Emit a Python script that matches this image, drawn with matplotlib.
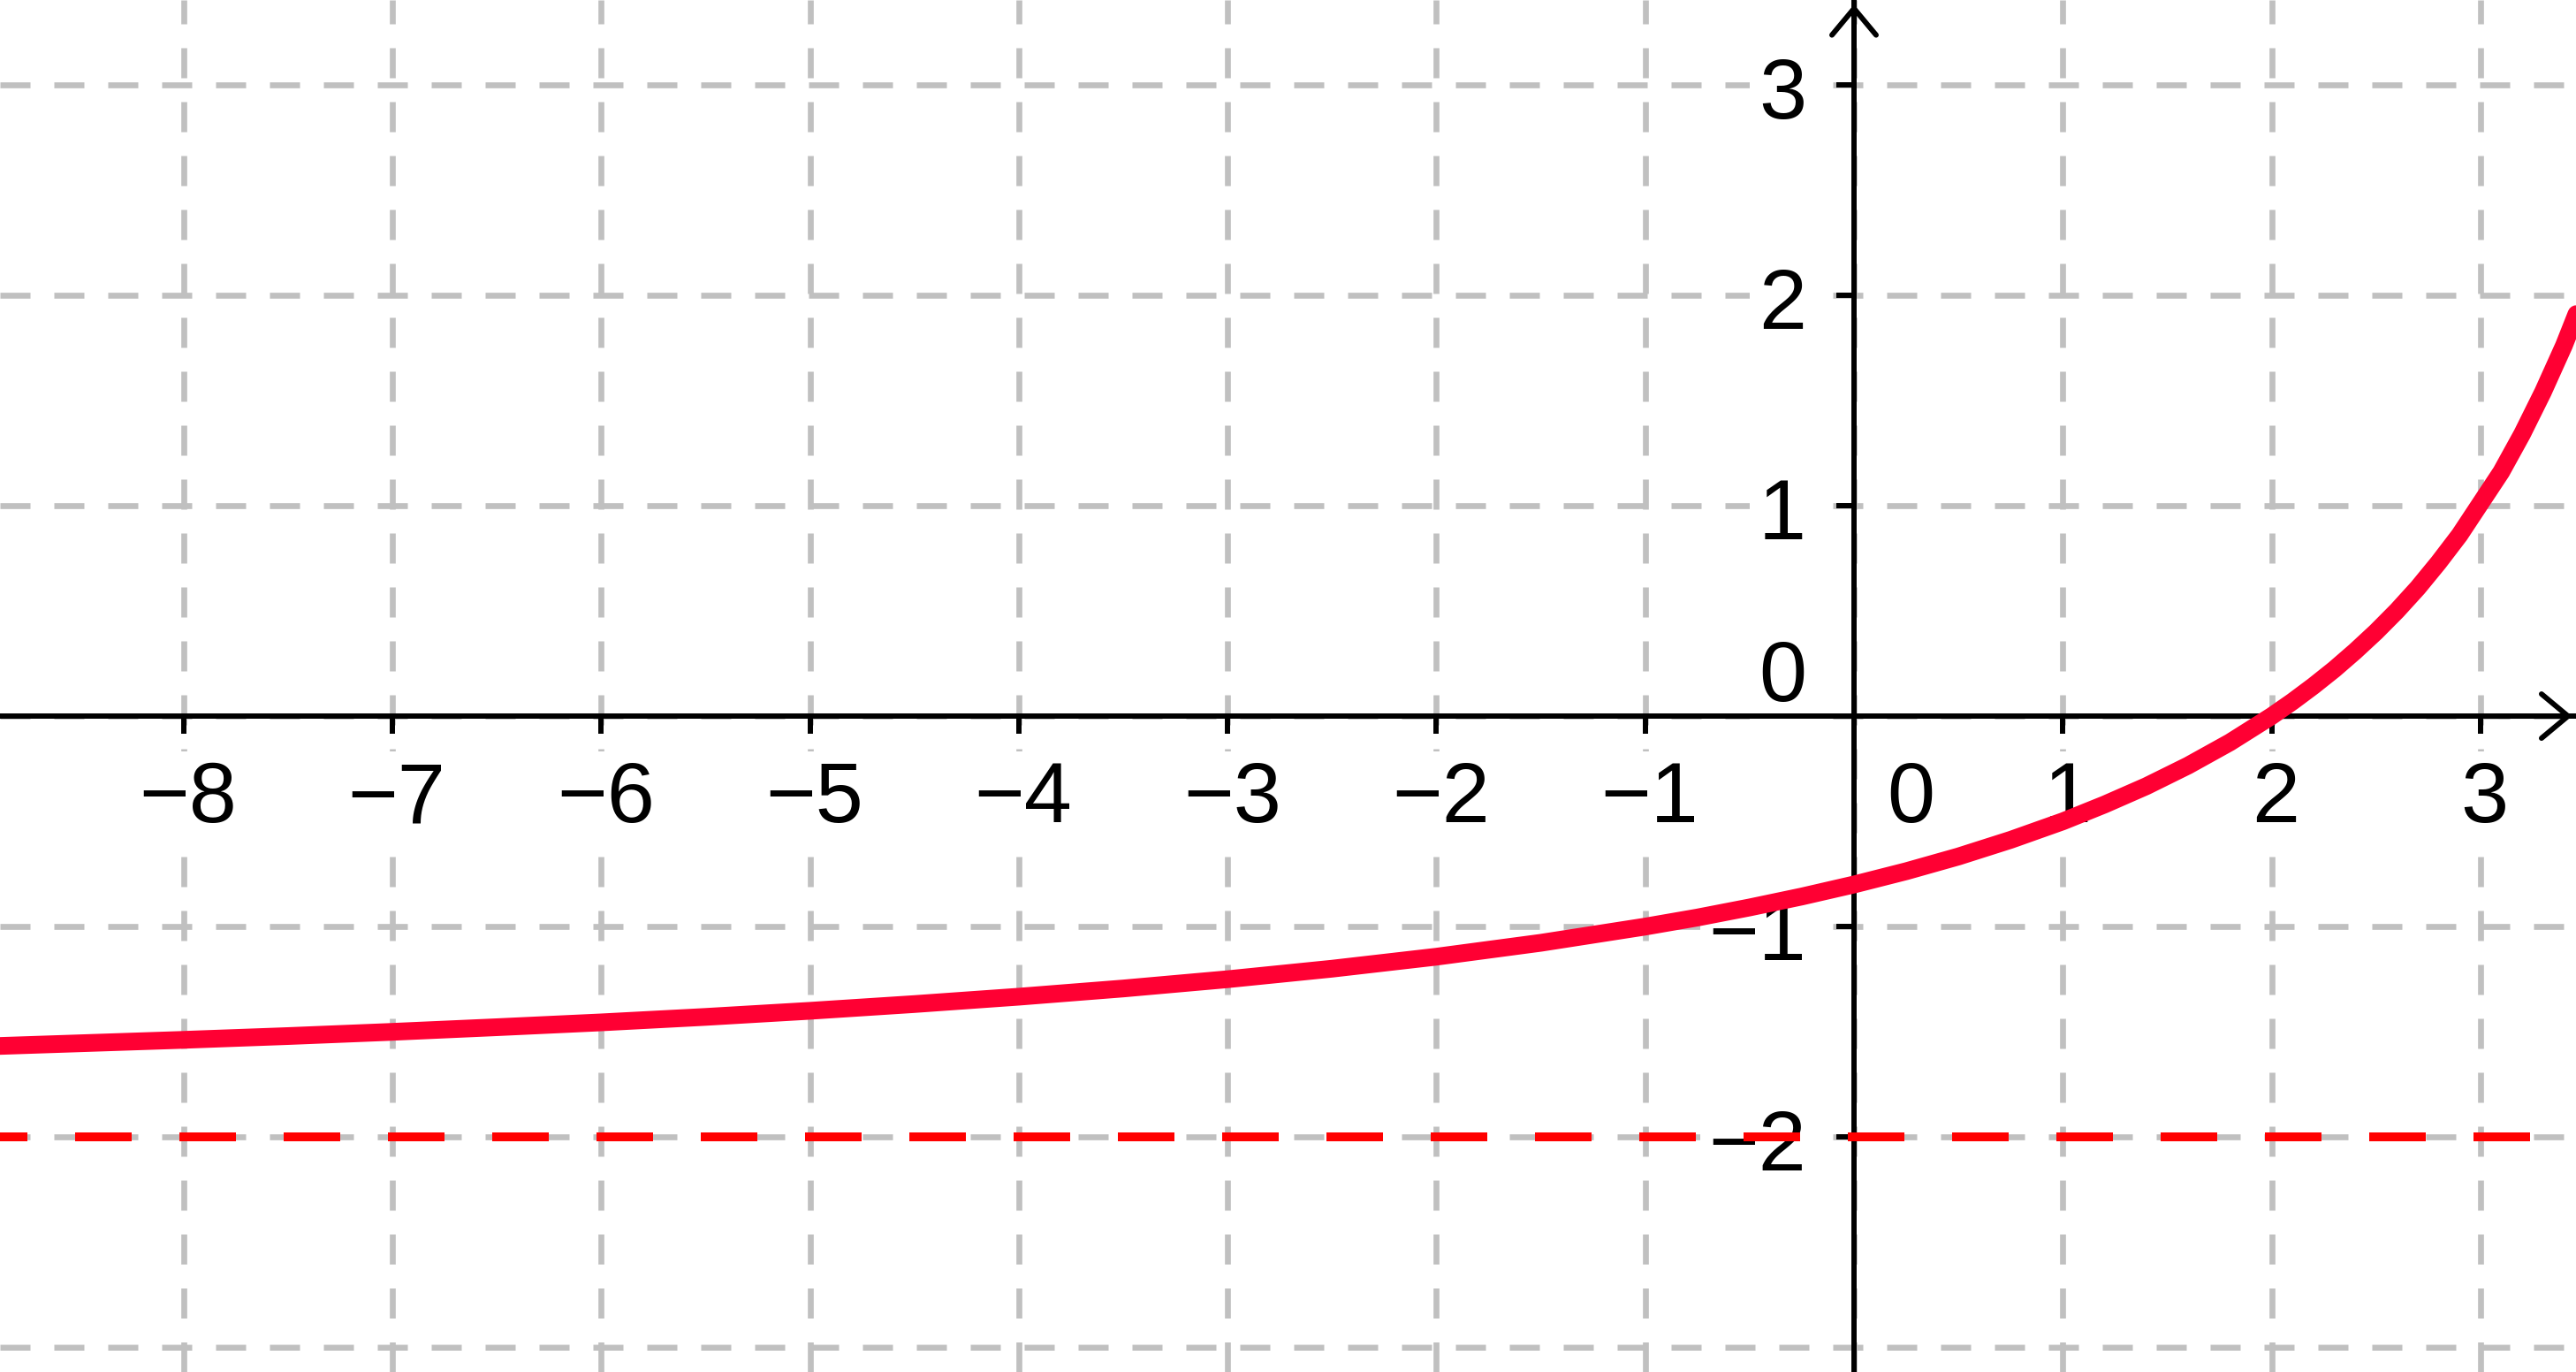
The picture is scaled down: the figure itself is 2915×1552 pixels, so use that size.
import numpy as np
import matplotlib
matplotlib.use("Agg")
import matplotlib.pyplot as plt
from matplotlib.transforms import offset_copy

# curve points
curve_x = [-8.88, -8, -7.5, -7, -6.5, -6, -5.5, -5, -4.5, -4, -3.5, -3, -2.5,
           -2, -1.5, -1, -0.75, -0.5, -0.25, 0, 0.25, 0.5, 0.75, 1, 1.2, 1.4,
           1.6, 1.8, 2.0, 2.1, 2.2, 2.3, 2.4, 2.5, 2.6, 2.7, 2.8, 2.9, 3.0,
           3.1, 3.2, 3.3, 3.4, 3.46]
curve_y = [-1.567, -1.538, -1.52, -1.50, -1.478, -1.455, -1.429, -1.40, -1.368,
           -1.333, -1.294, -1.25, -1.20, -1.143, -1.077, -1.0, -0.957, -0.909,
           -0.857, -0.80, -0.737, -0.667, -0.588, -0.50, -0.42, -0.333, -0.235,
           -0.125, 0.0, 0.069, 0.143, 0.222, 0.308, 0.40, 0.50, 0.609, 0.73,
           0.86, 1.01, 1.16, 1.34, 1.54, 1.76, 1.91]
asymptote_y = -2

x_ticks = [-8, -7, -6, -5, -4, -3, -2, -1, 0, 1, 2, 3]
x_labels = ['\u22128', '\u22127', '\u22126', '\u22125', '\u22124', '\u22123',
            '\u22122', '\u22121', '0', '1', '2', '3']
y_ticks = [-3, -2, -1, 0, 1, 2, 3]
y_labels = ['', '\u22122', '\u22121', '0', '1', '2', '3']

plt.rcParams['font.family'] = ['Liberation Sans', 'DejaVu Sans']

fig = plt.figure(figsize=(29.15, 15.52), dpi=100)
ax = fig.add_axes([0, 0, 1, 1])
ax.set_xlim(-8.88, 3.458)
ax.set_ylim(-3.116, 3.402)

grid_kw = dict(color='#c0c0c0', lw=4.8, linestyle=(0, (5.1, 4.05)), zorder=0.5)
for xt in x_ticks:
    ax.axvline(xt, **grid_kw)
for yt in y_ticks:
    ax.axhline(yt, **grid_kw)

# axes through the origin
for side in ['top', 'right']:
    ax.spines[side].set_visible(False)
for side in ['left', 'bottom']:
    ax.spines[side].set_position(('data', 0))
    ax.spines[side].set_linewidth(4.3)
    ax.spines[side].set_color('black')

ax.set_xticks([t for t in x_ticks if t != 0])
ax.set_yticks([t for t, lab in zip(y_ticks, y_labels) if t != 0 and lab])
ax.tick_params(direction='out', length=14.4, width=4.3, color='black',
               labelbottom=False, labelleft=False)

head = 'head_length=21.6,head_width=18'
ax.annotate('', xy=(0.9985, 0), xycoords=('axes fraction', 'data'),
            xytext=(0.97, 0), textcoords=('axes fraction', 'data'),
            arrowprops=dict(arrowstyle='->,' + head, lw=4.3, color='black',
                            shrinkA=0, shrinkB=0, mutation_scale=1))
ax.annotate('', xy=(0, 0.9968), xycoords=('data', 'axes fraction'),
            xytext=(0, 0.95), textcoords=('data', 'axes fraction'),
            arrowprops=dict(arrowstyle='->,' + head, lw=4.3, color='black',
                            shrinkA=0, shrinkB=0, mutation_scale=1))

box = dict(boxstyle='square,pad=0.1', facecolor='white', edgecolor='none')
for xt, lab in zip(x_ticks, x_labels):
    dx = 64 if xt == 0 else 5
    tr = offset_copy(ax.transData, fig=fig, x=dx, y=-120, units='dots')
    ax.text(xt, 0, lab, transform=tr, ha='center', va='baseline',
            fontsize=70, color='black', bbox=box, zorder=1)
for yt, lab in zip(y_ticks, y_labels):
    if not lab:
        continue
    dy = 17 if yt == 0 else -38
    tr = offset_copy(ax.transData, fig=fig, x=-54, y=dy, units='dots')
    ax.text(0, yt, lab, transform=tr, ha='right', va='baseline',
            fontsize=70, color='black', bbox=box, zorder=1)

ax.axhline(asymptote_y, color='#ff0000', lw=7.2,
           linestyle=(3.3, (6.4, 5.4)), zorder=3)
ax.plot(curve_x, curve_y, color='#ff0033', lw=14.4, solid_capstyle='round',
        solid_joinstyle='round', zorder=4)

fig.savefig('out.png', dpi=100)
